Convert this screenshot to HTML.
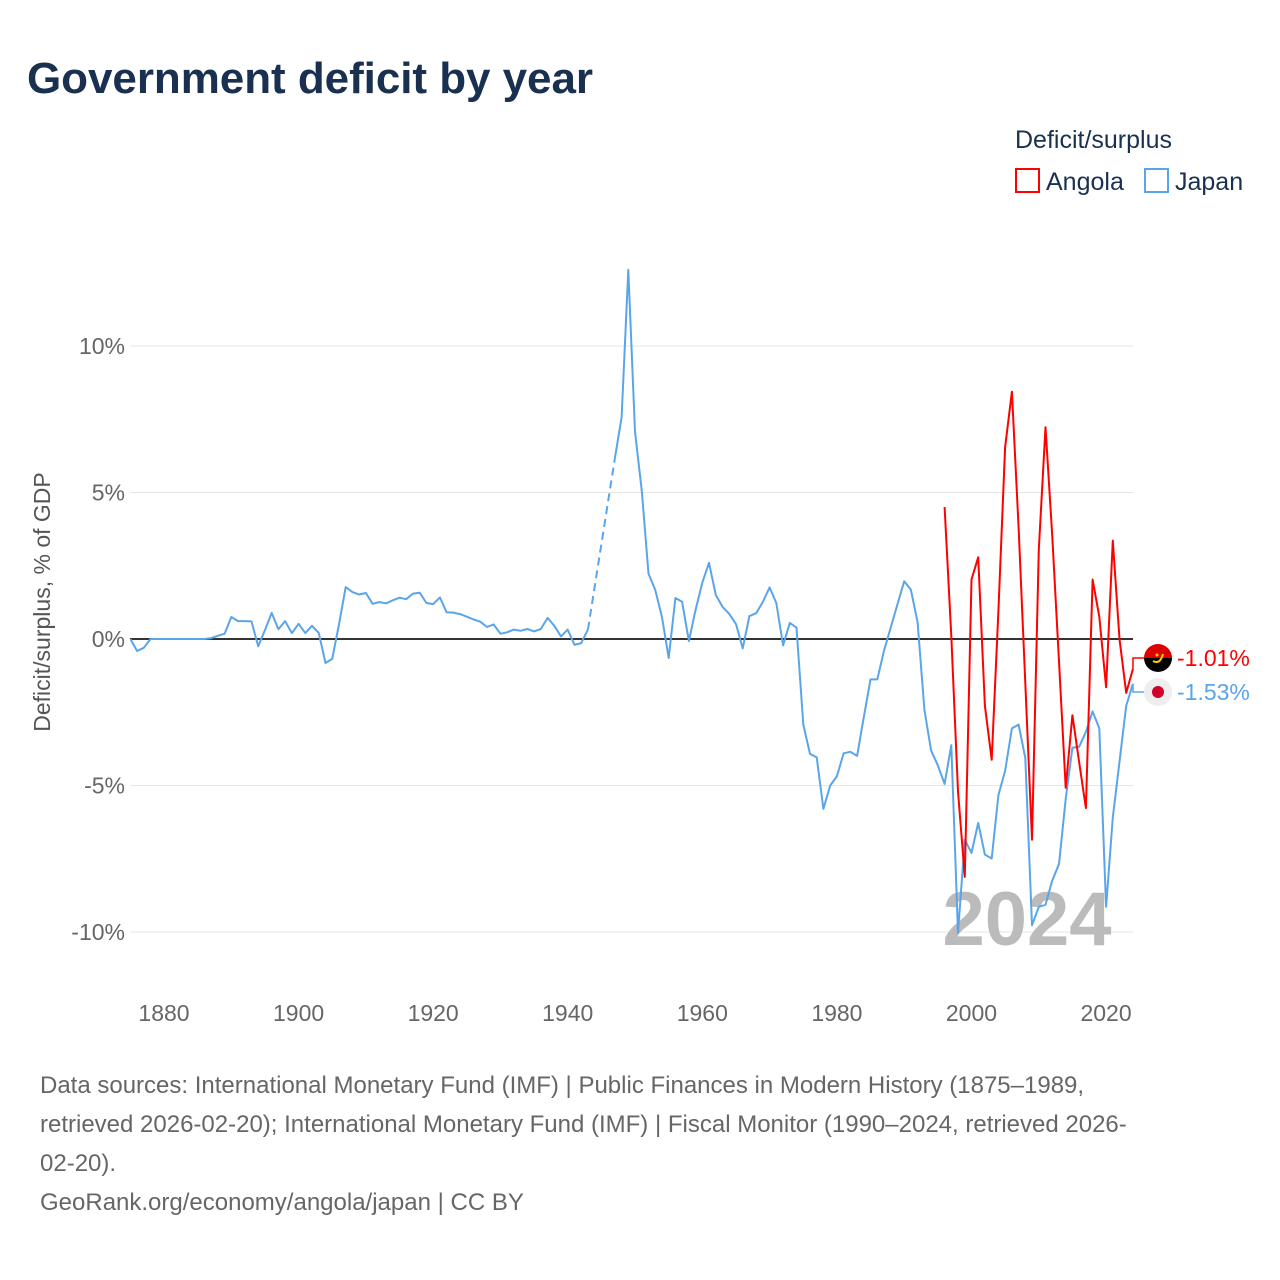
<!DOCTYPE html>
<html><head><meta charset="utf-8"><style>
html,body{margin:0;padding:0;background:#fff;}
svg{display:block;font-family:"Liberation Sans",sans-serif;}
</style></head><body>
<svg id="chart" width="1280" height="1280" viewBox="0 0 1280 1280">
<text x="27" y="93" font-size="44" font-weight="bold" fill="#1a3050" textLength="566">Government deficit by year</text>
<text x="1015" y="148" font-size="25" fill="#1a3050">Deficit/surplus</text>
<g><rect x="1016" y="169" width="23" height="23" fill="none" stroke="#ff0000" stroke-width="2"/><text x="1046" y="190" font-size="25" fill="#1a3050">Angola</text></g>
<g><rect x="1145" y="169" width="23" height="23" fill="none" stroke="#5aa5ea" stroke-width="2"/><text x="1175" y="190" font-size="25" fill="#1a3050">Japan</text></g>
<text transform="translate(50,602) rotate(-90)" text-anchor="middle" font-size="23" fill="#555">Deficit/surplus, % of GDP</text>
<g id="grid"></g>
<g id="xticks"></g>
<text x="1027" y="945" text-anchor="middle" font-size="76" font-weight="bold" fill="#bbb">2024</text>
<g id="series"></g>
<g id="ends"></g>
<g font-size="24" fill="#666">
<text x="40" y="1093">Data sources: International Monetary Fund (IMF) | Public Finances in Modern History (1875–1989,</text>
<text x="40" y="1132">retrieved 2026-02-20); International Monetary Fund (IMF) | Fiscal Monitor (1990–2024, retrieved 2026-</text>
<text x="40" y="1171">02-20).</text>
<text x="40" y="1210">GeoRank.org/economy/angola/japan | CC BY</text>
</g>
</svg>
<script>
const yTicks=[10,5,0,-5,-10];
const xTicks=[1880,1900,1920,1940,1960,1980,2000,2020];
const japanYears=[1875,1876,1877,1878,1879,1880,1881,1882,1883,1884,1885,1886,1887,1888,1889,1890,1891,1892,1893,1894,1895,1896,1897,1898,1899,1900,1901,1902,1903,1904,1905,1906,1907,1908,1909,1910,1911,1912,1913,1914,1915,1916,1917,1918,1919,1920,1921,1922,1923,1924,1925,1926,1927,1928,1929,1930,1931,1932,1933,1934,1935,1936,1937,1938,1939,1940,1941,1942,1943,1947,1948,1949,1950,1951,1952,1953,1954,1955,1956,1957,1958,1959,1960,1961,1962,1963,1964,1965,1966,1967,1968,1969,1970,1971,1972,1973,1974,1975,1976,1977,1978,1979,1980,1981,1982,1983,1984,1985,1986,1987,1988,1989,1990,1991,1992,1993,1994,1995,1996,1997,1998,1999,2000,2001,2002,2003,2004,2005,2006,2007,2008,2009,2010,2011,2012,2013,2014,2015,2016,2017,2018,2019,2020,2021,2022,2023,2024];
const japanValues=[0,-0.41,-0.3,0,0,0,0,0,0,0,0,0,0.03,0.11,0.18,0.75,0.61,0.61,0.6,-0.25,0.3,0.89,0.33,0.61,0.2,0.52,0.2,0.45,0.2,-0.82,-0.68,0.5,1.77,1.6,1.52,1.57,1.2,1.26,1.22,1.32,1.41,1.36,1.55,1.58,1.23,1.19,1.42,0.91,0.9,0.85,0.76,0.67,0.59,0.41,0.5,0.18,0.23,0.32,0.28,0.34,0.26,0.34,0.72,0.45,0.09,0.32,-0.2,-0.14,0.32,6.15,7.56,12.6,7.07,5.05,2.23,1.68,0.76,-0.65,1.4,1.27,-0.07,1.0,1.92,2.6,1.5,1.1,0.86,0.51,-0.32,0.78,0.88,1.27,1.76,1.23,-0.22,0.55,0.39,-2.92,-3.92,-4.04,-5.8,-5.0,-4.69,-3.9,-3.85,-3.99,-2.67,-1.38,-1.38,-0.4,0.39,1.19,1.97,1.68,0.57,-2.41,-3.81,-4.31,-4.95,-3.62,-10.03,-6.85,-7.3,-6.28,-7.36,-7.49,-5.33,-4.5,-3.05,-2.92,-4.06,-9.77,-9.14,-9.07,-8.25,-7.68,-5.46,-3.71,-3.68,-3.17,-2.47,-3.05,-9.14,-6.09,-4.19,-2.28,-1.53];
const angolaYears=[1996,1997,1998,1999,2000,2001,2002,2003,2004,2005,2006,2007,2008,2009,2010,2011,2012,2013,2014,2015,2016,2017,2018,2019,2020,2021,2022,2023,2024];
const angolaValues=[4.5,0.1,-5.2,-8.12,2.03,2.79,-2.28,-4.12,0.95,6.54,8.44,3.81,-1.5,-6.85,3.05,7.23,3.55,-0.76,-5.08,-2.6,-4.19,-5.77,2.03,0.76,-1.65,3.36,0,-1.84,-1.01];
const NS='http://www.w3.org/2000/svg';
const xS=y=>164+(y-1880)*6.729;
const yS=v=>639-v*29.3;
function mk(tag,attrs,parent){const e=document.createElementNS(NS,tag);for(const k in attrs)e.setAttribute(k,attrs[k]);parent.appendChild(e);return e;}
const grid=document.getElementById('grid');
yTicks.forEach(t=>{
  const l=mk('line',{x1:130,x2:1133,y1:yS(t),y2:yS(t),stroke:t===0?'#333':'#e6e6e6','stroke-width':t===0?2:1},grid);
  
  
  const tx=mk('text',{x:125,y:yS(t)+8,'text-anchor':'end','font-size':23,fill:'#666'},grid);
  tx.textContent=t+'%';
  
  
});
const xt=document.getElementById('xticks');
xTicks.forEach(t=>{
  const tx=mk('text',{x:xS(t),y:1021,'text-anchor':'middle','font-size':23,fill:'#666'},xt);
  tx.textContent=t;
  
  
});
const ser=document.getElementById('series');
function drawSeries(years,vals,color,name){
  let d='',prev=null;
  const n=Math.min(years.length,vals.length);
  for(let i=0;i<n;i++){
    const px=xS(years[i]).toFixed(1),py=yS(vals[i]).toFixed(1);
    if(prev!==null&&years[i]-prev>1){
      const dl=mk('line',{x1:xS(prev),y1:yS(vals[i-1]),x2:px,y2:py,stroke:color,'stroke-width':2,'stroke-dasharray':'8,5'},ser);
      
      
      d+='M'+px+','+py;
    } else d+=(d?'L':'M')+px+','+py;
    prev=years[i];
  }
  const p=mk('path',{d:d,fill:'none',stroke:color,'stroke-width':2,'stroke-linejoin':'round'},ser);
  
  
}
drawSeries(japanYears,japanValues,'#5aa5ea','japan');
drawSeries(angolaYears,angolaValues,'#ff0000','angola');
const ends=document.getElementById('ends');
function endLabel(val,ly,color,name,flag){
  const ex=xS(2024),ey=yS(val);
  const c=mk('polyline',{points:`${ex},${ey} ${ex},${ly} 1144,${ly}`,fill:'none',stroke:color,'stroke-width':1.5},ends);
  
  
  const g=mk('g',{},ends);
  
  
  flag(g,1158,ly);
  const t=mk('text',{x:1177,y:ly+8,'font-size':23,fill:color},ends);
  t.textContent=val.toFixed(2)+'%';
  
  
}
endLabel(angolaValues[angolaValues.length-1],658,'#ff0000','angola',(g,x,y)=>{
  mk('path',{d:`M${x-14},${y} A14,14 0 0 1 ${x+14},${y} Z`,fill:'#d00'},g);
  mk('path',{d:`M${x-14},${y} A14,14 0 0 0 ${x+14},${y} Z`,fill:'#000'},g);
  mk('path',{d:`M${x-5},${y+3} Q${x+2},${y+7} ${x+5},${y-4}`,fill:'none',stroke:'#fc0','stroke-width':2},g);
  mk('circle',{cx:x-1,cy:y-3,r:1.5,fill:'#fc0'},g);
});
endLabel(japanValues[japanValues.length-1],692,'#5aa5ea','japan',(g,x,y)=>{
  mk('circle',{cx:x,cy:y,r:14,fill:'#eee'},g);
  mk('circle',{cx:x,cy:y,r:6,fill:'#d0002a'},g);
});
</script>
</body></html>
